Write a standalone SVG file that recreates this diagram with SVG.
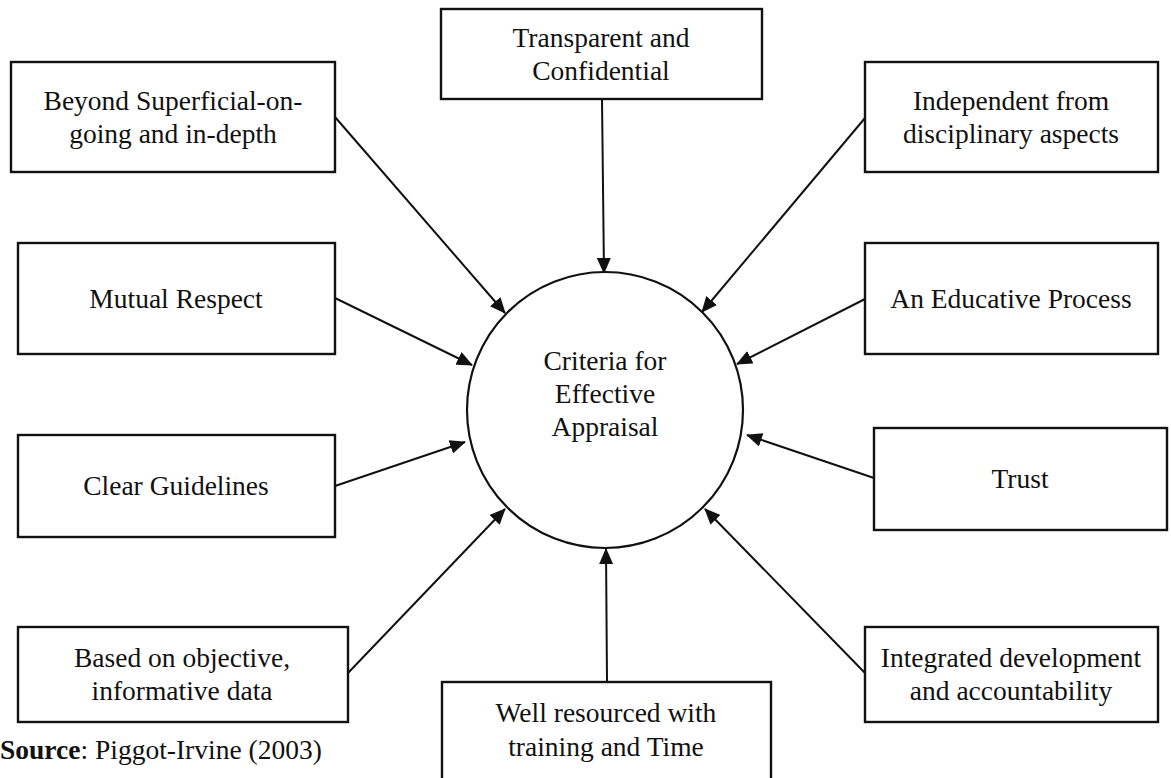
<svg xmlns="http://www.w3.org/2000/svg" width="1171" height="778" viewBox="0 0 1171 778">
  <style>
    .box { fill: #ffffff; stroke: #111111; stroke-width: 2.4; }
    .hub { fill: #ffffff; stroke: #111111; stroke-width: 2.2; }
    .lbl { font-family: "Liberation Serif", "Times New Roman", serif; font-size: 27.5px; fill: #111111; text-anchor: middle; }
    .src { font-family: "Liberation Serif", "Times New Roman", serif; font-size: 27.5px; fill: #111111; }
    .link { stroke: #111111; stroke-width: 2; fill: none; marker-end: url(#arrow); }
  </style>
  <defs>
    <marker id="arrow" markerUnits="userSpaceOnUse" viewBox="0 0 16 14" markerWidth="16" markerHeight="14" refX="15" refY="7" orient="auto">
      <path d="M0,0 L16,7 L0,14 Z" fill="#111111"/>
    </marker>
  </defs>

  <rect width="1171" height="778" fill="#ffffff"/>

  <!-- connectors: every criterion points at the central circle -->
  <g id="connectors">
    <line class="link" x1="335" y1="117" x2="505" y2="313"/>
    <line class="link" x1="602" y1="99" x2="604" y2="273"/>
    <line class="link" x1="865" y1="118" x2="702" y2="312"/>
    <line class="link" x1="335" y1="298" x2="472" y2="365"/>
    <line class="link" x1="865" y1="299" x2="737" y2="364"/>
    <line class="link" x1="335" y1="486" x2="465" y2="442"/>
    <line class="link" x1="874" y1="478" x2="747" y2="435"/>
    <line class="link" x1="348" y1="673" x2="505" y2="509"/>
    <line class="link" x1="865" y1="673" x2="705" y2="509"/>
    <line class="link" x1="607" y1="682" x2="606" y2="549"/>
  </g>

  <g id="hub">
    <circle class="hub" cx="605" cy="410" r="138"/>
    <text class="lbl" x="605" y="370">Criteria for</text>
    <text class="lbl" x="605" y="403">Effective</text>
    <text class="lbl" x="605" y="436">Appraisal</text>
  </g>

  <g id="beyond-superficial">
    <rect class="box" x="11" y="62" width="324" height="110"/>
    <text class="lbl" x="173" y="110">Beyond Superficial-on-</text>
    <text class="lbl" x="173" y="143">going and in-depth</text>
  </g>

  <g id="transparent">
    <rect class="box" x="441" y="9" width="321" height="90"/>
    <text class="lbl" x="601" y="47">Transparent and</text>
    <text class="lbl" x="601" y="80">Confidential</text>
  </g>

  <g id="independent">
    <rect class="box" x="865" y="62" width="293" height="110"/>
    <text class="lbl" x="1011" y="110">Independent from</text>
    <text class="lbl" x="1011" y="143">disciplinary aspects</text>
  </g>

  <g id="mutual-respect">
    <rect class="box" x="18" y="243" width="317" height="111"/>
    <text class="lbl" x="176" y="308">Mutual Respect</text>
  </g>

  <g id="educative-process">
    <rect class="box" x="865" y="243" width="293" height="111"/>
    <text class="lbl" x="1011" y="308">An Educative Process</text>
  </g>

  <g id="clear-guidelines">
    <rect class="box" x="18" y="435" width="317" height="102"/>
    <text class="lbl" x="176" y="495">Clear Guidelines</text>
  </g>

  <g id="trust">
    <rect class="box" x="874" y="428" width="293" height="102"/>
    <text class="lbl" x="1020" y="488">Trust</text>
  </g>

  <g id="objective-data">
    <rect class="box" x="18" y="627" width="330" height="95"/>
    <text class="lbl" x="182" y="667">Based on objective,</text>
    <text class="lbl" x="182" y="700">informative data</text>
  </g>

  <g id="integrated">
    <rect class="box" x="865" y="627" width="293" height="95"/>
    <text class="lbl" x="1011" y="667">Integrated development</text>
    <text class="lbl" x="1011" y="700">and accountability</text>
  </g>

  <g id="well-resourced">
    <rect class="box" x="442" y="682" width="329" height="98"/>
    <text class="lbl" x="606" y="722">Well resourced with</text>
    <text class="lbl" x="606" y="756">training and Time</text>
  </g>

  <text class="src" x="0" y="759"><tspan font-weight="bold">Source</tspan>: Piggot-Irvine (2003)</text>
</svg>
